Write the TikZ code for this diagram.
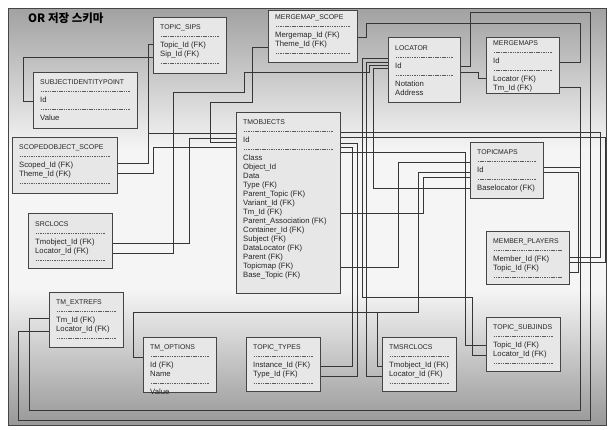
\documentclass[tikz,border=0pt]{standalone}
\usepackage{fontspec}
\setmainfont{Liberation Sans}
\newfontfamily\krfont{Noto Sans CJK KR}
\usetikzlibrary{calc}
\pgfdeclarelayer{bg}
\pgfdeclarelayer{lines}
\pgfsetlayers{bg,lines,main}
\definecolor{bgtop}{HTML}{A2A2A2}
\definecolor{bgmid}{HTML}{F5F5F5}
\definecolor{bgbot}{HTML}{989898}
\definecolor{boxfill}{HTML}{E7E7E7}
\definecolor{boxline}{HTML}{454545}
\definecolor{lin}{HTML}{363636}
\definecolor{txt}{HTML}{262626}
\definecolor{dashc}{HTML}{5A5A5A}
\newlength\dashw
\newcommand\dsh{\raisebox{2.6pt}{\color{dashc}\hbox to \dashw{\xleaders\hbox to 2.3pt{\hss\vrule width 1.5pt height 0.5pt depth 0pt\hss}\hfill}}}
\newcommand\erbox[8]{%
  \node[ebox, minimum width={#4pt-#2pt}, minimum height={#5pt-#3pt}] (#1) at (#2,#3) {};
  \pgfmathsetlength\dashw{#4-#2-14}%
  \node[etext] (#1-t) at ($(#1.north west)+(7,#6-#3-3.5)$) {\rule{0pt}{6pt}{\fontsize{6.9}{9}\selectfont #7}\\#8};
}
\begin{document}
\begin{tikzpicture}[x=1pt,y=-1pt,
  ebox/.style={draw=boxline, line width=0.9pt, fill=boxfill, inner sep=0pt, outer sep=0pt, anchor=north west},
  etext/.style={inner sep=0pt, anchor=north west, align=left, font={\fontsize{7.7}{9}\selectfont}, text=txt},
  conn/.style={draw=lin, line width=0.8pt}]
\useasboundingbox (0,0) rectangle (612,430);
\begin{pgfonlayer}{bg}
\fill[white] (0,0) rectangle (612,430);
\shade[top color=bgtop, bottom color=bgmid] (8,9) rectangle (606,150);
\fill[bgmid] (8,150) rectangle (606,290);
\shade[top color=bgmid, bottom color=bgbot] (8,290) rectangle (606,425);
\draw[boxline, line width=1pt] (8,9) rectangle (606,425);
\end{pgfonlayer}

\node[font={\krfont\bfseries\fontsize{11.5}{13}\selectfont}, text=black, anchor=west, inner sep=0pt] (title) at (28,18) {OR 저장 스키마};

\erbox{tsips}{153}{17}{226}{73}{27}{TOPIC\_SIPS}{\dsh\\Topic\_Id (FK)\\Sip\_Id (FK)\\\dsh}
\erbox{sip}{33}{72}{137}{128}{82}{SUBJECTIDENTITYPOINT}{\dsh\\Id\\\dsh\\Value}
\erbox{mms}{268}{10}{357}{62}{17}{MERGEMAP\_SCOPE}{\dsh\\Mergemap\_Id (FK)\\Theme\_Id (FK)\\\dsh}
\erbox{loc}{388}{37}{460}{102}{48}{LOCATOR}{\dsh\\Id\\\dsh\\Notation\\Address}
\erbox{mmaps}{486}{37}{559}{93}{43}{MERGEMAPS}{\dsh\\Id\\\dsh\\Locator (FK)\\Tm\_Id (FK)}
\erbox{sos}{12}{137}{117}{193}{147}{SCOPEDOBJECT\_SCOPE}{\dsh\\Scoped\_Id (FK)\\Theme\_Id (FK)\\\dsh}
\erbox{src}{28}{213}{112}{268}{224}{SRCLOCS}{\dsh\\Tmobject\_Id (FK)\\Locator\_Id (FK)\\\dsh}
\erbox{tmo}{236}{112}{340}{293}{122}{TMOBJECTS}{\dsh\\Id\\\dsh\\Class\\Object\_Id\\Data\\Type (FK)\\Parent\_Topic (FK)\\Variant\_Id (FK)\\Tm\_Id (FK)\\Parent\_Association (FK)\\Container\_Id (FK)\\Subject (FK)\\DataLocator (FK)\\Parent (FK)\\Topicmap (FK)\\Base\_Topic (FK)}
\erbox{tp}{470}{142}{543}{198}{152}{TOPICMAPS}{\dsh\\Id\\\dsh\\Baselocator (FK)}
\erbox{mp}{486}{231}{569}{284}{241}{MEMBER\_PLAYERS}{\dsh\\Member\_Id (FK)\\Topic\_Id (FK)\\\dsh}
\erbox{tmx}{49}{292}{123}{347}{302}{TM\_EXTREFS}{\dsh\\Tm\_Id (FK)\\Locator\_Id (FK)\\\dsh}
\erbox{tmopt}{143}{337}{216}{392}{347}{TM\_OPTIONS}{\dsh\\Id (FK)\\Name\\\dsh\\Value}
\erbox{tt}{246}{337}{320}{391}{347}{TOPIC\_TYPES}{\dsh\\Instance\_Id (FK)\\Type\_Id (FK)\\\dsh}
\erbox{tms}{382}{337}{456}{391}{347}{TMSRCLOCS}{\dsh\\Tmobject\_Id (FK)\\Locator\_Id (FK)\\\dsh}
\erbox{tsub}{486}{317}{560}{371}{327}{TOPIC\_SUBJINDS}{\dsh\\Topic\_Id (FK)\\Locator\_Id (FK)\\\dsh}

\begin{pgfonlayer}{lines}
% TOPIC_SIPS
\draw[conn] (tsips.west |- 0,57) -| (23,101) -- (sip.west |- 0,101);
\draw[conn] (tsips.west |- 0,44) -| (148,133) -- (tmo.west |- 0,133);
% SCOPEDOBJECT_SCOPE
\draw[conn] (sos.east |- 0,163) -| (148,133) -- (tmo.west |- 0,133);
\draw[conn] (sos.east |- 0,173) -| (153,147) -- (tmo.west |- 0,147);
% SRCLOCS
\draw[conn] (src.east |- 0,243) -| (189,138) -- (tmo.west |- 0,138);
\draw[conn] (src.east |- 0,253) -| (173,92) -| (244,72) -| (369,65) -- (loc.west |- 0,65);
% MERGEMAP_SCOPE
\draw[conn] (mms.west |- 0,47) -| (252,102) -| (210,142) -- (tmo.west |- 0,142);
\draw[conn] (mms.east |- 0,37) -| (366,23) -| (580,62) -- (mmaps.east |- 0,62);
% MERGEMAPS
\draw[conn] (mmaps.west |- 0,78) -| (478,72) -- (loc.east |- 0,72);
\draw[conn] (mmaps.east |- 0,87) -| (580,167) -- (tp.east |- 0,167);
% TM_EXTREFS
\draw[conn] (tmx.west |- 0,331) -| (18,420) -| (590,12) -| (470,66) -- (loc.east |- 0,66);
\draw[conn] (tmx.west |- 0,318) -| (29,410) -| (580,167) -- (tp.east |- 0,167);
% TOPICMAPS
\draw[conn] (tp.west |- 0,188) -| (373,68) -- (loc.west |- 0,68);
% TOPIC_SUBJINDS
\draw[conn] (tsub.west |- 0,355) -| (472,297) -| (362,58) -- (loc.west |- 0,58);
\draw[conn] (tsub.west |- 0,345) -| (465,152) -- (tmo.east |- 0,152);
% TMSRCLOCS
\draw[conn] (tms.west |- 0,376) -| (366,62) -- (loc.west |- 0,62);
\draw[conn] (tms.west |- 0,366) -| (377,312) -| (418,172) -- (tp.west |- 0,172);
% TOPIC_TYPES
\draw[conn] (tt.east |- 0,366) -| (352,147) -- (tmo.east |- 0,147);
\draw[conn] (tt.east |- 0,376) -| (357,143) -- (tmo.east |- 0,143);
% TMOBJECTS -> TOPICMAPS
\draw[conn] (tmo.east |- 0,267) -| (398,162) -- (tp.west |- 0,162);
\draw[conn] (tmo.east |- 0,213) -| (423,177) -- (tp.west |- 0,177);
% TM_OPTIONS
\draw[conn] (tmopt.west |- 0,357) -| (133,312) -| (418,172) -- (tp.west |- 0,172);
% MEMBER_PLAYERS
\draw[conn] (mp.east |- 0,257) -| (600,132) -- (tmo.east |- 0,132);
\draw[conn] (mp.east |- 0,262) -| (605,137) -- (tmo.east |- 0,137);
\draw[conn] (mp.east |- 0,272) -| (578,172) -- (tp.east |- 0,172);
\end{pgfonlayer}
\end{tikzpicture}
\end{document}
